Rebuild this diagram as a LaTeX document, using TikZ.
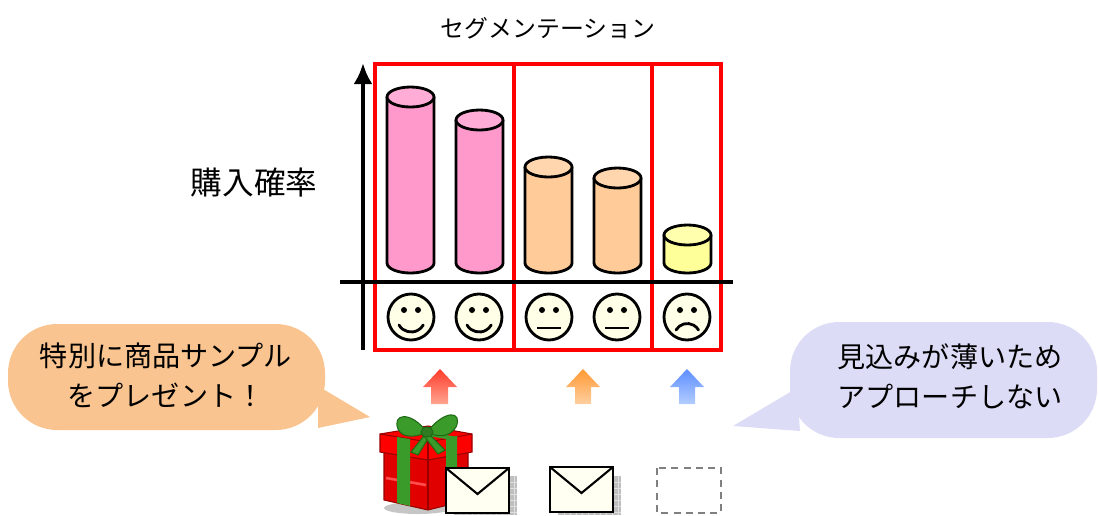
\documentclass[tikz,border=0pt]{standalone}
\usepackage{fontspec}
\setmainfont{Noto Sans CJK JP}
\usetikzlibrary{arrows.meta}
\definecolor{pinkbar}{HTML}{FF99CC}
\definecolor{orangebar}{HTML}{FFCC99}
\definecolor{yellowbar}{HTML}{FFFF99}
\definecolor{facefill}{HTML}{FFFFE8}
\definecolor{envfill}{HTML}{FFFFF2}
\definecolor{peachnote}{HTML}{F9C48F}
\definecolor{lilacnote}{HTML}{DCDCF7}
\definecolor{giftred}{HTML}{E00000}
\definecolor{giftdark}{HTML}{990000}
\definecolor{ribbon}{HTML}{3A9A2A}
\definecolor{ribbondark}{HTML}{1F6A16}
\definecolor{uptopr}{HTML}{FF3B2B}
\definecolor{upbotr}{HTML}{FFA590}
\definecolor{uptopo}{HTML}{FF9933}
\definecolor{upboto}{HTML}{FFCFA0}
\definecolor{uptopb}{HTML}{5C8EFF}
\definecolor{upbotb}{HTML}{B3CDFF}

\begin{document}
\begin{tikzpicture}[x=0.02cm,y=-0.02cm,>={Latex[length=0.42cm,width=0.38cm]},
    outline/.style={line width=1.6pt,black},
    segbox/.style={line width=2pt,red},
    notetext/.style={align=center,font=\fontsize{16}{22.7}\selectfont}]
  \useasboundingbox (0,0) rectangle (1099,515);

  % titles
  \node[font=\fontsize{13.6}{16}\selectfont] (title) at (548,28) {セグメンテーション};
  \node[font=\fontsize{18}{20}\selectfont] (ylab) at (254,183) {購入確率};

  % segment frames
  \draw[segbox] (375,64) rectangle (514,350);
  \draw[segbox] (514,64) rectangle (652,350);
  \draw[segbox] (652,64) rectangle (721,350);

  % axes
  \coordinate (ybot) at (363,350);
  \coordinate (ytop) at (363,63);
  \coordinate (xl) at (340,282);
  \coordinate (xr) at (733,282);
  \draw[line width=2.4pt,->] (ybot) -- (ytop);
  \draw[line width=2.4pt] (xl) -- (xr);

  % cylinders
  \foreach \cx/\ct/\col in {410.5/97/pinkbar,479.5/120/pinkbar,548.5/167/orangebar,617.5/178/orangebar,687.5/235/yellowbar}{
    \filldraw[outline,fill=\col] (\cx-23.5,\ct) -- (\cx-23.5,263)
      arc[start angle=180,end angle=0,x radius=23.5,y radius=10] -- (\cx+23.5,\ct);
    \filldraw[outline,fill=\col!80!white] (\cx,\ct) ellipse[x radius=23.5,y radius=10];
  }

  % faces
  \foreach \cx in {411,479,549,617,687}{
    \filldraw[outline,fill=facefill] (\cx,317) circle[radius=23];
    \fill (\cx-7,310) circle[radius=3];
    \fill (\cx+7,310) circle[radius=3];
  }
  \draw[outline,line cap=round] (411-12,325) arc[start angle=150,end angle=30,radius=14];
  \draw[outline,line cap=round] (479-12,325) arc[start angle=150,end angle=30,radius=14];
  \draw[outline] (549-12,328) -- (549+12,328);
  \draw[outline] (617-12,328) -- (617+12,328);
  \draw[outline,line cap=round] (687-11,330) arc[start angle=210,end angle=330,radius=13];

  % arrows up
  \shade[top color=uptopr,bottom color=upbotr]
    (440,369) -- (457,387) -- (448,387) -- (448,404) -- (431,404) -- (431,387) -- (423,387) -- cycle;
  \shade[top color=uptopo,bottom color=upboto]
    (583,369) -- (600,387) -- (591,387) -- (591,404) -- (575,404) -- (575,387) -- (566,387) -- cycle;
  \shade[top color=uptopb,bottom color=upbotb]
    (687,369) -- (704,387) -- (695,387) -- (695,404) -- (679,404) -- (679,387) -- (670,387) -- cycle;

  % callouts
  \fill[peachnote,rounded corners=28] (8,324) rectangle (325,430);
  \fill[peachnote] (318,386) -- (370,417) -- (318,428) -- cycle;
  \node[notetext] (lnote) at (166,375) {特別に商品サンプル\\をプレゼント！};

  \fill[lilacnote,rounded corners=28] (790,322) rectangle (1097,438);
  \fill[lilacnote] (797,388) -- (733,426) -- (800,431) -- cycle;
  \node[notetext] (rnote) at (950,376) {見込みが薄いため\\アプローチしない};

  % gift box
  \fill[gray!45] (418,508) ellipse[x radius=34,y radius=6];
  \filldraw[draw=giftdark,fill=giftred,line width=0.6pt]
    (384,452) -- (428,460) -- (468,452) -- (468,500) -- (428,510) -- (384,500) -- cycle;
  \draw[giftdark,line width=0.6pt] (428,460) -- (428,510);
  \draw[red!70!white,line width=1.5pt] (386,478) -- (426,485);
  \filldraw[draw=giftdark,fill=red,line width=0.6pt]
    (380,434) -- (428,426) -- (472,434) -- (472,452) -- (428,460) -- (380,452) -- cycle;
  \draw[giftdark,line width=0.6pt] (380,434) -- (428,442) -- (472,434);
  \draw[giftdark,line width=0.6pt] (428,442) -- (428,460);
  \fill[ribbon] (397,437) -- (410,439) -- (410,506) -- (397,503) -- cycle;
  \fill[ribbon] (446,438) -- (457,436) -- (457,503) -- (446,506) -- cycle;
  \fill[ribbon] (399,431) -- (411,429) -- (458,437) -- (446,439) -- cycle;
  \filldraw[draw=ribbondark,fill=ribbon,line width=0.6pt]
    (427,432) -- (411,452) -- (418,455) -- (429,437) -- cycle;
  \filldraw[draw=ribbondark,fill=ribbon,line width=0.6pt]
    (427,432) -- (445,450) -- (438,454) -- (425,437) -- cycle;
  \filldraw[draw=ribbondark,fill=ribbon,line width=0.6pt]
    (427,432) .. controls (410,410) and (392,414) .. (398,429) .. controls (402,438) and (415,438) .. (427,432);
  \filldraw[draw=ribbondark,fill=ribbon,line width=0.6pt]
    (427,432) .. controls (445,409) and (463,411) .. (456,427) .. controls (450,437) and (438,438) .. (427,432);
  \filldraw[draw=ribbondark,fill=ribbon!80!black,line width=0.6pt] (427,432) ellipse[x radius=6,y radius=5];

  % envelopes
  \fill[gray!50] (454,476) rectangle (517,515);
  \foreach \gx in {460,466,...,514} \draw[gray!25,line width=0.3pt] (\gx,476) -- (\gx,515);
  \foreach \gy in {482,488,...,512} \draw[gray!25,line width=0.3pt] (454,\gy) -- (517,\gy);
  \filldraw[outline,fill=envfill] (446,468) rectangle (509,513);
  \draw[line width=1.2pt] (446,468) -- (477.5,494) -- (509,468);

  \fill[gray!50] (558,476) rectangle (621,515);
  \foreach \gx in {564,570,...,618} \draw[gray!25,line width=0.3pt] (\gx,476) -- (\gx,515);
  \foreach \gy in {482,488,...,512} \draw[gray!25,line width=0.3pt] (558,\gy) -- (621,\gy);
  \filldraw[outline,fill=envfill] (550,467) rectangle (613,512);
  \draw[line width=1.2pt] (550,467) -- (581.5,493) -- (613,467);

  \draw[gray,line width=1.2pt,dash pattern=on 4pt off 3pt] (657,468) rectangle (721,513);
\end{tikzpicture}
\end{document}
